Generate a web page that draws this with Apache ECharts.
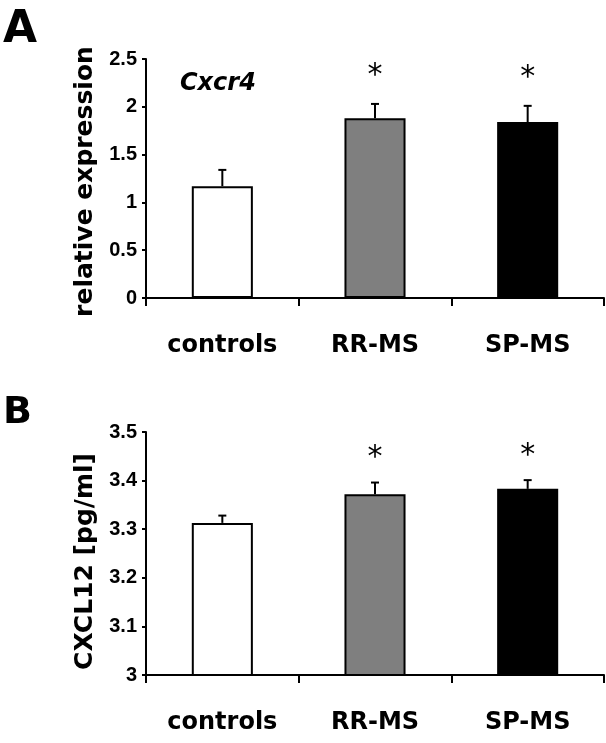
<!DOCTYPE html>
<html>
<head>
<meta charset="utf-8">
<script src="https://cdn.jsdelivr.net/npm/echarts@6/dist/echarts.min.js"></script>
<style>
html,body{margin:0;padding:0;background:#fff;}
#chart{width:606px;height:743px;}
</style>
</head>
<body>
<div id="chart"></div>
<script>
// ---- data ----
var categories = ['controls', 'RR-MS', 'SP-MS'];
var cxcr4Mean = [1.17, 1.88, 1.84];
var cxcr4ErrUp = [0.17, 0.15, 0.17];
var cxcl12Mean = [3.313, 3.372, 3.383];
var cxcl12ErrUp = [0.015, 0.024, 0.018];
var significance = ['', '*', '*'];
var cxcr4Ticks = ['0', '0.5', '1', '1.5', '2', '2.5'];
var cxcl12Ticks = ['3', '3.1', '3.2', '3.3', '3.4', '3.5'];

// ---- styles ----
var groupColors = ['#ffffff', '#7f7f7f', '#000000'];
var FONT = 'DejaVu Sans';
var TICKFONT = 'Liberation Sans';

function barData(means) {
  return means.map(function (v, i) {
    return { value: v, itemStyle: { color: groupColors[i] } };
  });
}
function errData(means, errs) {
  return means.map(function (v, i) { return [i, v, v + errs[i]]; });
}
function errRender(params, api) {
  var p0 = api.coord([api.value(0), api.value(1)]);
  var p1 = api.coord([api.value(0), api.value(2)]);
  var cap = 4;
  return {
    type: 'group',
    children: [
      { type: 'line', shape: { x1: p0[0], y1: p0[1], x2: p1[0], y2: p1[1] }, style: { stroke: '#000', lineWidth: 2 } },
      { type: 'line', shape: { x1: p1[0] - cap, y1: p1[1], x2: p1[0] + cap, y2: p1[1] }, style: { stroke: '#000', lineWidth: 2 } }
    ]
  };
}
function starData(means, errs) {
  return means.map(function (v, i) { return [i, v + errs[i]]; });
}
function makeStarRender(offset) {
  return function (params, api) {
    var p = api.coord([api.value(0), api.value(1)]);
    var txt = significance[params.dataIndex];
    if (!txt) return null;
    return {
      type: 'text',
      style: { text: txt, x: p[0], y: p[1] - offset, align: 'center', verticalAlign: 'middle',
        font: 'normal 30px "' + FONT + '"', fill: '#000' }
    };
  };
}

function xAxisCfg(gi) {
  return {
    type: 'category', gridIndex: gi, data: categories, boundaryGap: true,
    axisLine: { lineStyle: { color: '#000', width: 2 } },
    axisTick: { show: true, length: 8, lineStyle: { color: '#000', width: 2 } },
    axisLabel: { color: '#000', fontFamily: FONT, fontWeight: 'bold', fontSize: 24, margin: 36 },
    splitLine: { show: false }
  };
}
function yAxisCfg(gi, min, max, interval, ticks, name, namePad) {
  return {
    type: 'value', gridIndex: gi, min: min, max: max, interval: interval,
    name: name, nameLocation: 'middle', nameRotate: 90, nameGap: 47,
    nameTextStyle: { color: '#000', fontFamily: FONT, fontWeight: 'bold', fontSize: 25, padding: [0, namePad, 0, 0] },
    axisLine: { show: true, lineStyle: { color: '#000', width: 2 } },
    axisTick: { show: true, length: 4, lineStyle: { color: '#000', width: 2 } },
    axisLabel: {
      color: '#000', fontFamily: TICKFONT, fontWeight: 'bold', fontSize: 20, margin: 9,
      formatter: function (v) {
        var idx = Math.round((v - min) / interval);
        return ticks[idx] !== undefined ? ticks[idx] : '';
      }
    },
    splitLine: { show: false }
  };
}

var chart = echarts.init(document.getElementById('chart'), null, { renderer: 'canvas' });
chart.setOption({
  animation: false,
  backgroundColor: '#fff',
  title: [
    { text: 'A', left: -2, top: 4, textStyle: { fontFamily: FONT, fontWeight: 'bold', fontSize: 44, color: '#000' } },
    { text: 'B', left: -2, top: 389, textStyle: { fontFamily: FONT, fontWeight: 'bold', fontSize: 38, color: '#000' } },
    { text: 'Cxcr4', left: 175, top: 67, textStyle: { fontFamily: FONT, fontWeight: 'bold', fontStyle: 'italic', fontSize: 24, color: '#000' } }
  ],
  grid: [
    { left: 146, right: 2, top: 59, height: 239 },
    { left: 146, right: 2, top: 432, height: 243 }
  ],
  xAxis: [xAxisCfg(0), xAxisCfg(1)],
  yAxis: [
    yAxisCfg(0, 0, 2.5, 0.5, cxcr4Ticks, 'relative expression', 6),
    yAxisCfg(1, 3, 3.5, 0.1, cxcl12Ticks, 'CXCL12 [pg/ml]', 16)
  ],
  series: [
    { type: 'bar', xAxisIndex: 0, yAxisIndex: 0, barWidth: '40%', data: barData(cxcr4Mean),
      itemStyle: { borderColor: '#000', borderWidth: 2 } },
    { type: 'custom', xAxisIndex: 0, yAxisIndex: 0, data: errData(cxcr4Mean, cxcr4ErrUp), renderItem: errRender, z: 3 },
    { type: 'custom', xAxisIndex: 0, yAxisIndex: 0, data: starData(cxcr4Mean, cxcr4ErrUp), renderItem: makeStarRender(28), z: 4, clip: false },
    { type: 'bar', xAxisIndex: 1, yAxisIndex: 1, barWidth: '40%', data: barData(cxcl12Mean),
      itemStyle: { borderColor: '#000', borderWidth: 2 } },
    { type: 'custom', xAxisIndex: 1, yAxisIndex: 1, data: errData(cxcl12Mean, cxcl12ErrUp), renderItem: errRender, z: 3 },
    { type: 'custom', xAxisIndex: 1, yAxisIndex: 1, data: starData(cxcl12Mean, cxcl12ErrUp), renderItem: makeStarRender(24), z: 4, clip: false }
  ]
});
</script>
</body>
</html>
